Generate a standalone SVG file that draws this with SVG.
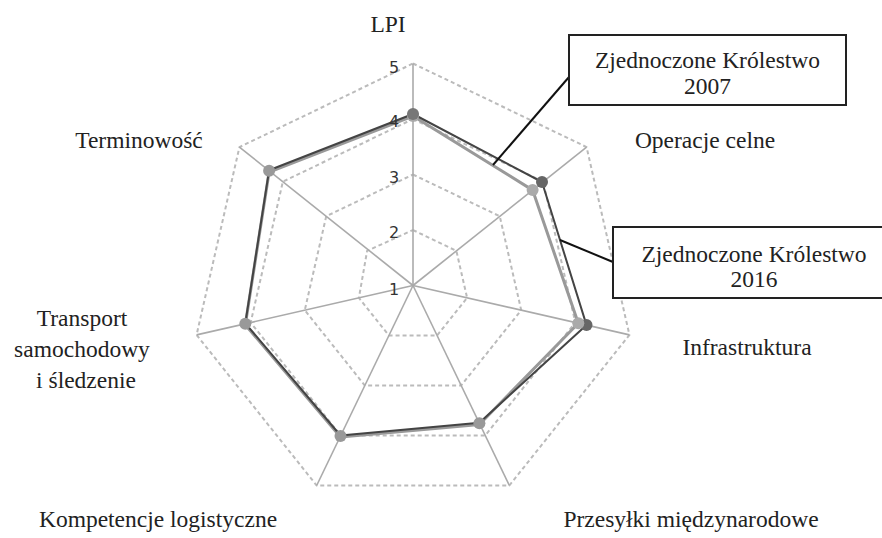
<svg xmlns="http://www.w3.org/2000/svg" width="882" height="538" viewBox="0 0 882 538">
<style>
.lbl{font-size:23.5px;fill:#222;text-anchor:middle}
.tick{font-family:'DejaVu Sans',Verdana,sans-serif;font-size:16px;fill:#333;text-anchor:middle}
.ring{fill:none;stroke:#bbb;stroke-width:2;stroke-dasharray:4 3}
.axis{stroke:#aaa;stroke-width:1.6;fill:none}
.s2016{fill:none;stroke:#999;stroke-width:3;stroke-linejoin:round}
.s2007{fill:none;stroke:#444;stroke-width:2;stroke-linejoin:round}
.box{fill:#fff;stroke:#222;stroke-width:2}
.lead{stroke:#111;stroke-width:2;fill:none}
</style>
<rect width="882" height="538" fill="#fff"/>
<g id="grid">
<polygon class="ring" points="413,230 456.39,250.9 467.11,297.85 437.08,335.5 388.92,335.5 358.89,297.85 367.11,250.9"/>
<polygon class="ring" points="413,174.5 499.78,216.29 521.22,310.2 461.16,385.51 364.84,385.51 304.78,310.2 326.22,216.29"/>
<polygon class="ring" points="413,119 543.17,181.69 575.33,322.55 485.24,435.51 340.76,435.51 250.67,322.55 282.83,181.69"/>
<polygon class="ring" points="413,63.5 586.57,147.09 629.43,334.9 509.32,485.52 316.68,485.52 196.57,334.9 239.43,147.09"/>
</g>
<g id="axes">
<line class="axis" x1="413" y1="285.5" x2="413" y2="63.5"/>
<line class="axis" x1="413" y1="285.5" x2="586.57" y2="147.09"/>
<line class="axis" x1="413" y1="285.5" x2="629.43" y2="334.9"/>
<line class="axis" x1="413" y1="285.5" x2="509.32" y2="485.52"/>
<line class="axis" x1="413" y1="285.5" x2="316.68" y2="485.52"/>
<line class="axis" x1="413" y1="285.5" x2="196.57" y2="334.9"/>
<line class="axis" x1="413" y1="285.5" x2="239.43" y2="147.09"/>
</g>
<g id="series-2016">
<polygon class="s2016" points="413,116 532.6,190.1 578.3,323.2 479.4,424.5 340.5,437 245.3,324.8 269.1,172"/>
</g>
<g id="series-2007">
<polygon class="s2007" points="413,114 542,182 586.5,325.1 479.4,422.8 340.5,435.5 245.3,323.3 269.1,170.3"/>
</g>
<g id="markers">
<circle cx="413" cy="116" r="6" fill="#aaa"/>
<circle cx="413" cy="114" r="6" fill="#777"/>
<circle cx="542" cy="182" r="6" fill="#666"/>
<circle cx="532.6" cy="190.1" r="6" fill="#aaa"/>
<circle cx="586.5" cy="325.1" r="6" fill="#666"/>
<circle cx="578.3" cy="323.2" r="6" fill="#aaa"/>
<circle cx="479.4" cy="423.3" r="6" fill="#999"/>
<circle cx="340.5" cy="436" r="6" fill="#999"/>
<circle cx="245.3" cy="323.8" r="6" fill="#999"/>
<circle cx="269.1" cy="170.8" r="6" fill="#999"/>
</g>
<g id="ticks">
<text class="tick" x="394" y="73">5</text>
<text class="tick" x="394" y="127">4</text>
<text class="tick" x="394" y="183">3</text>
<text class="tick" x="394" y="238">2</text>
<text class="tick" x="394" y="295">1</text>
</g>
<g id="axis-labels" font-family="Liberation Serif, DejaVu Serif, serif">
<text class="lbl" x="388" y="32">LPI</text>
<text class="lbl" x="705" y="148">Operacje celne</text>
<text class="lbl" x="747" y="355">Infrastruktura</text>
<text class="lbl" x="691" y="527">Przesyłki międzynarodowe</text>
<text class="lbl" x="158" y="527">Kompetencje logistyczne</text>
<text class="lbl" x="82" y="326">Transport</text>
<text class="lbl" x="82" y="357">samochodowy</text>
<text class="lbl" x="86" y="388">i śledzenie</text>
<text class="lbl" x="139" y="148">Terminowość</text>
</g>
<g id="connectors">
<line class="lead" x1="569" y1="77" x2="493" y2="165"/>
<line class="lead" x1="613" y1="262" x2="560" y2="240"/>
</g>
<g id="callout-2007" font-family="Liberation Serif, DejaVu Serif, serif">
<rect class="box" x="569" y="35" width="277" height="70"/>
<text class="lbl" x="707.5" y="68">Zjednoczone Królestwo</text>
<text class="lbl" x="707.5" y="94">2007</text>
</g>
<g id="callout-2016" font-family="Liberation Serif, DejaVu Serif, serif">
<rect class="box" x="613" y="227" width="282" height="71"/>
<text class="lbl" x="754" y="262">Zjednoczone Królestwo</text>
<text class="lbl" x="754" y="287">2016</text>
</g>
</svg>
